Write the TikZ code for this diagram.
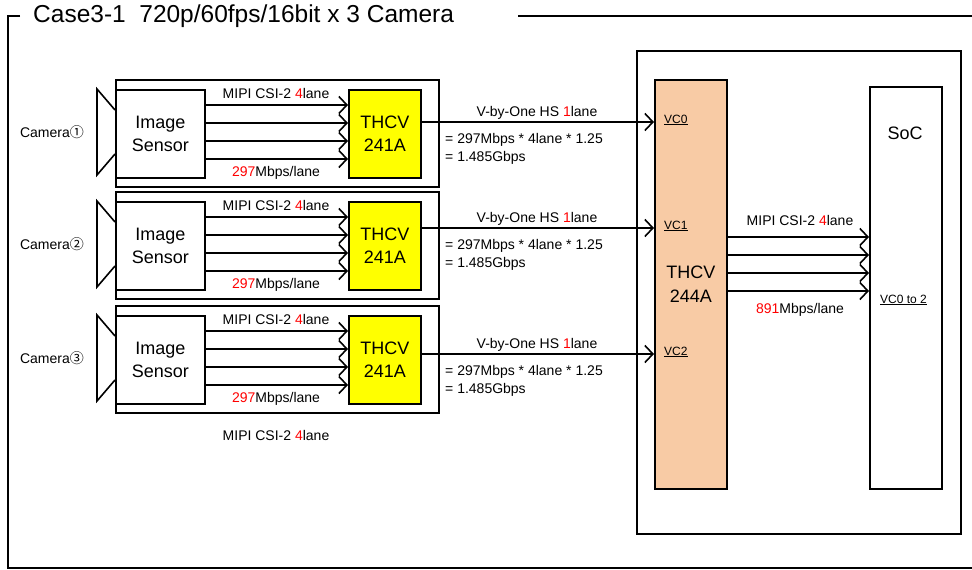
\documentclass[tikz,border=0pt]{standalone}
\usepackage{fontspec}
\setmainfont{Liberation Sans}
\newfontfamily\cjk{Noto Sans CJK JP}
\usetikzlibrary{arrows.meta, positioning}
\definecolor{seryellow}{RGB}{255,255,0}
\definecolor{despeach}{RGB}{248,203,165}
\newcommand{\rd}[1]{\textcolor{red}{#1}}

\tikzset{
    blk/.style={draw, line width=1.6pt, rectangle, inner sep=0pt, anchor=north west, align=center,
        font=\fontsize{18}{23.5}\selectfont},
    bigtxt/.style={inner sep=0pt, align=center, font=\fontsize{18}{23.5}\selectfont},
    lbl/.style={inner sep=0pt, font=\fontsize{14}{18}\selectfont},
    vctxt/.style={inner sep=0pt, anchor=west, font=\fontsize{12}{14}\selectfont},
    lane/.style={line width=1.6pt, -{Straight Barb[length=8pt, width=17pt, line width=1.6pt]}},
    frame/.style={line width=1.6pt}
}

\begin{document}
\begin{tikzpicture}[x=1pt, y=-1pt]
        \useasboundingbox (0,0) rectangle (972,570);
        % Title and outer frame
        \node [inner sep=0pt, anchor=west, font=\fontsize{24.5}{27}\selectfont] (title) at (33,16)
            {Case3-1~~720p/60fps/16bit x 3 Camera};
        \coordinate (frtr) at (518,16);
        \draw [frame] ([xshift=-13pt]title.west) -- (8,16) |- (972,568);
        \draw [frame] (frtr) -- (972,16);
        % Cameras
        \foreach \i/\y/\o/\n/\v in {1/89/122/①/0, 2/201/228/②/1, 3/315/354/③/2} {
            \node [blk, minimum width=323pt, minimum height=107pt] (cbox\i) at (115,{\y-10}) {};
            \node [blk, fill=white, minimum width=89pt, minimum height=88pt] (sen\i) at (115,\y) {Image\\Sensor};
            \node [blk, fill=seryellow, minimum width=72pt, minimum height=88pt] (ser\i) at (348,\y) {THCV\\241A};
            \draw [frame, line join=miter] (115,{\y+21}) -- (97,\y) -- (97,{\y+86}) -- (115,{\y+65});
            \node [lbl] (cam\i) at (52,{\y+43}) {Camera{\cjk\n}};
            % lanes
            \foreach \k in {16,34,52,70}
                \draw [lane] (sen\i.east |- 0,{\y+\k}) -- (ser\i.west |- 0,{\y+\k});
            \node [lbl] (mipi\i) at (276,{\y+4}) {MIPI CSI-2 \rd{4}lane};
            \node [lbl] (rate\i) at (276,{\y+84}) {\rd{297}Mbps/lane};
            % V-by-One link
            \node [lbl] (vbo\i) at (537,{\o-9}) {V-by-One HS \rd{1}lane};
            \node [lbl, anchor=west, align=left] (calc\i) at (445,{\o+27})
                {= 297Mbps * 4lane * 1.25\\= 1.485Gbps};
        }
        \node [lbl] (mipib) at (276,435) {MIPI CSI-2 \rd{4}lane};
        % Board
        \node [blk, minimum width=324pt, minimum height=483pt] (board) at (636,50) {};
        \node [blk, fill=despeach, minimum width=72pt, minimum height=409pt] (des) at (654,79) {THCV\\244A};
        \node [blk, minimum width=72pt, minimum height=402pt] (soc) at (869,86) {};
        \node [bigtxt] (soct) at (905,133) {SoC};
        \foreach \i/\o/\v in {1/122/0, 2/228/1, 3/354/2} {
            \draw [lane] (ser\i.east |- 0,\o) -- (des.west |- 0,\o);
            \node [vctxt] (vc\i) at (664,{\o-2}) {\underline{VC\v}};
        }
        % Output
        \foreach \k in {237,255,273,291}
            \draw [lane] (des.east |- 0,\k) -- (soc.west |- 0,\k);
        \node [lbl] (mipio) at (800,220) {MIPI CSI-2 \rd{4}lane};
        \node [lbl] (rateo) at (800,310) {\rd{891}Mbps/lane};
        \node [vctxt] (vcall) at (880,300) {\underline{VC0 to 2}};
    \end{tikzpicture}
\end{document}
